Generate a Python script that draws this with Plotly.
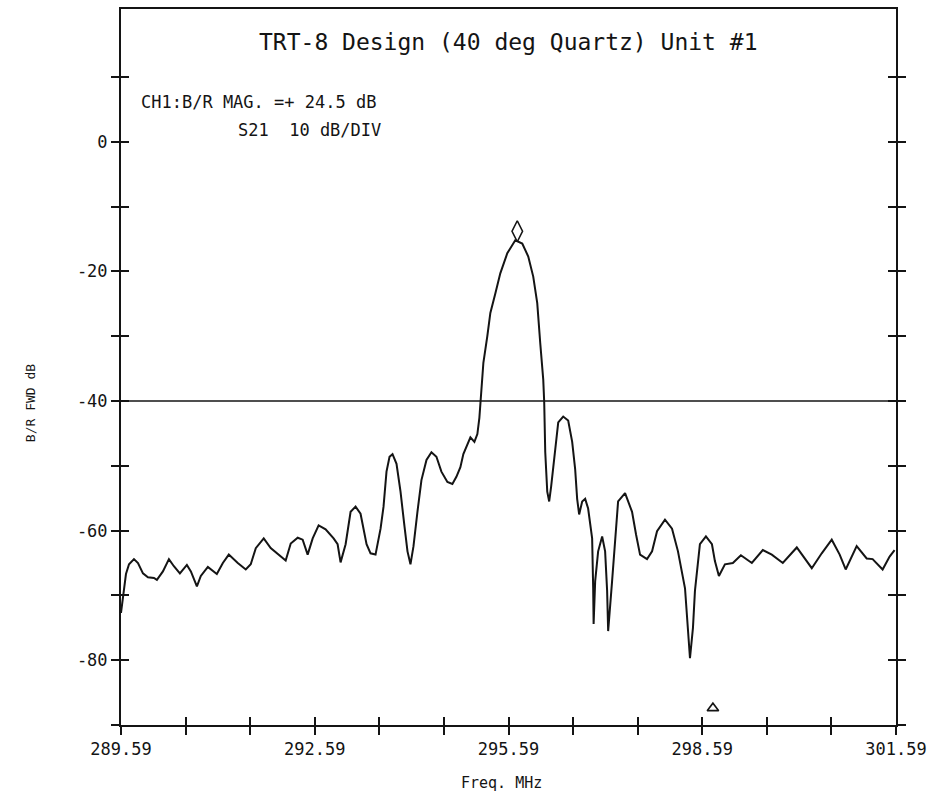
import plotly.graph_objects as go

# ---- data ----
freq_mhz = [
    289.590, 289.621, 289.667, 289.714, 289.791, 289.853, 289.930, 290.007, 290.100, 290.146,
    290.239, 290.332, 290.409, 290.502, 290.610, 290.672, 290.765, 290.826, 290.935, 291.074,
    291.167, 291.259, 291.398, 291.522, 291.599, 291.677, 291.800, 291.908, 292.032, 292.140,
    292.218, 292.326, 292.403, 292.480, 292.558, 292.650, 292.758, 292.882, 292.944, 292.990,
    293.068, 293.145, 293.222, 293.299, 293.392, 293.454, 293.531, 293.609, 293.655, 293.701,
    293.748, 293.794, 293.856, 293.918, 293.980, 294.026, 294.072, 294.119, 294.180, 294.242,
    294.320, 294.397, 294.474, 294.551, 294.644, 294.721, 294.783, 294.845, 294.891, 294.922,
    295.000, 295.062, 295.108, 295.139, 295.154, 295.201, 295.262, 295.309, 295.386, 295.463,
    295.571, 295.695, 295.803, 295.896, 295.973, 296.035, 296.081, 296.128, 296.143, 296.159,
    296.190, 296.220, 296.250, 296.313, 296.360, 296.437, 296.514, 296.576, 296.622, 296.653,
    296.684, 296.731, 296.777, 296.823, 296.854, 296.885, 296.901, 296.908, 296.932, 296.978,
    297.040, 297.086, 297.117, 297.133, 297.194, 297.256, 297.287, 297.395, 297.503, 297.565,
    297.627, 297.735, 297.813, 297.890, 298.013, 298.122, 298.214, 298.323, 298.369, 298.400,
    298.446, 298.477, 298.554, 298.647, 298.740, 298.786, 298.848, 298.941, 299.064, 299.188,
    299.358, 299.528, 299.667, 299.837, 300.054, 300.286, 300.440, 300.595, 300.718, 300.811,
    300.981, 301.136, 301.228, 301.383, 301.491, 301.568,
]
s21_db = [
    -72.7, -70.4, -66.7, -65.2, -64.4, -65.0, -66.6, -67.2, -67.3, -67.6,
    -66.3, -64.4, -65.5, -66.6, -65.3, -66.3, -68.6, -67.0, -65.6, -66.7,
    -65.0, -63.7, -65.0, -66.0, -65.2, -62.7, -61.2, -62.7, -63.7, -64.6,
    -62.0, -61.1, -61.4, -63.7, -61.2, -59.2, -59.8, -61.2, -62.1, -64.9,
    -62.1, -57.1, -56.3, -57.4, -62.1, -63.5, -63.7, -59.7, -56.3, -50.9,
    -48.6, -48.2, -49.7, -54.0, -59.4, -63.2, -65.2, -62.4, -57.1, -52.2,
    -49.1, -47.9, -48.6, -50.9, -52.5, -52.8, -51.7, -50.2, -48.2, -47.4,
    -45.6, -46.3, -45.1, -42.6, -40.2, -34.1, -30.0, -26.4, -23.4, -20.3,
    -17.2, -15.2, -15.7, -17.7, -20.8, -24.9, -31.0, -36.7, -40.2, -47.9,
    -54.0, -55.5, -53.2, -47.9, -43.3, -42.4, -43.0, -46.3, -50.5, -55.1,
    -57.5, -55.5, -55.1, -56.6, -58.6, -61.2, -68.9, -74.4, -67.8, -63.2,
    -60.9, -63.2, -69.3, -75.5, -67.8, -59.7, -55.5, -54.2, -57.1, -60.6,
    -63.7, -64.4, -63.2, -60.1, -58.3, -59.7, -63.2, -68.9, -75.0, -79.7,
    -75.0, -69.3, -62.1, -60.9, -62.1, -64.7, -67.0, -65.2, -65.0, -63.8,
    -65.0, -63.0, -63.7, -65.0, -62.6, -65.8, -63.5, -61.4, -63.7, -66.0,
    -62.4, -64.3, -64.4, -66.0, -64.0, -63.0,
]

marker_freq = [295.726]      # main marker (diamond) above the peak
marker_db = [-13.8]
delta_freq = [298.755]       # delta-marker symbol
delta_db = [-87.4]
ref_level_db = -40

x_range = [289.59, 301.59]
y_range = [-90, 20.5]
x_tick_vals = [289.59 + i for i in range(13)]
x_tick_text = ["289.59", "", "", "292.59", "", "", "295.59", "", "", "298.59", "", "", "301.59"]
y_tick_vals = [-90, -80, -70, -60, -50, -40, -30, -20, -10, 0, 10]
y_tick_text = ["", "-80", "", "-60", "", "-40", "", "-20", "", "0", ""]

title_text = "TRT-8 Design (40 deg Quartz) Unit #1"
info_line1 = "CH1:B/R MAG. =+ 24.5 dB"
info_line2 = "S21  10 dB/DIV"
x_title = "Freq. MHz"
y_title = "B/R FWD dB"

FONT = "DejaVu Sans Mono"
INK = "#141414"

fig = go.Figure()
fig.add_trace(go.Scatter(x=freq_mhz, y=s21_db, mode="lines",
                         line=dict(color=INK, width=2), showlegend=False, hoverinfo="skip"))
fig.add_trace(go.Scatter(x=marker_freq, y=marker_db, mode="markers",
                         marker=dict(symbol="diamond-tall-open", size=15, color=INK,
                                     line=dict(width=1.6, color=INK)),
                         showlegend=False, hoverinfo="skip"))
fig.add_trace(go.Scatter(x=delta_freq, y=delta_db, mode="markers",
                         marker=dict(symbol="triangle-up-open", size=10, color=INK,
                                     line=dict(width=1.6, color=INK)),
                         showlegend=False, hoverinfo="skip"))
# dummy trace for the inner-tick overlay axes
fig.add_trace(go.Scatter(x=[None], y=[None], xaxis="x2", yaxis="y2",
                         showlegend=False, hoverinfo="skip"))

fig.add_hline(y=ref_level_db, line=dict(color=INK, width=1.6))

common_axis = dict(showgrid=False, zeroline=False)
fig.update_layout(
    width=934, height=797,
    margin=dict(l=121, r=35, t=7, b=72),
    paper_bgcolor="white", plot_bgcolor="white",
    font=dict(family=FONT, color=INK),
    xaxis=dict(range=x_range, tickvals=x_tick_vals, ticktext=x_tick_text,
               ticks="outside", ticklen=8, tickwidth=1.5, tickcolor=INK,
               showline=True, linewidth=2, linecolor=INK, mirror=True,
               tickfont=dict(family=FONT, size=17, color=INK), **common_axis),
    xaxis2=dict(range=x_range, tickvals=x_tick_vals, overlaying="x", anchor="y",
                side="bottom", ticks="inside", ticklen=8, tickwidth=1.5, tickcolor=INK,
                showticklabels=False, showline=False, **common_axis),
    yaxis=dict(range=y_range, tickvals=y_tick_vals, ticktext=y_tick_text,
               ticks="outside", ticklen=8, tickwidth=1.5, tickcolor=INK,
               showline=True, linewidth=2, linecolor=INK, mirror="ticks",
               tickfont=dict(family=FONT, size=17, color=INK), **common_axis),
    yaxis2=dict(range=y_range, tickvals=y_tick_vals, overlaying="y", anchor="x",
                side="left", ticks="inside", ticklen=8, tickwidth=1.5, tickcolor=INK,
                showticklabels=False, showline=False, mirror="ticks", **common_axis),
)

fig.add_annotation(text=title_text, xref="paper", yref="paper", x=0.5, y=0.954,
                   xanchor="center", yanchor="middle", showarrow=False,
                   font=dict(family=FONT, size=23, color=INK))
fig.add_annotation(text=info_line1, xref="paper", yref="paper", x=0.023, y=0.870,
                   xanchor="left", yanchor="middle", showarrow=False,
                   font=dict(family=FONT, size=17, color=INK))
fig.add_annotation(text=info_line2, xref="paper", yref="paper", x=0.149, y=0.831,
                   xanchor="left", yanchor="middle", showarrow=False,
                   font=dict(family=FONT, size=17, color=INK))
fig.add_annotation(text=x_title, xref="paper", yref="paper", x=0.491, y=-0.081,
                   xanchor="center", yanchor="middle", showarrow=False,
                   font=dict(family=FONT, size=15, color=INK))
fig.add_annotation(text=y_title, xref="paper", yref="paper", x=-0.117, y=0.45,
                   xanchor="center", yanchor="middle", showarrow=False, textangle=-90,
                   font=dict(family=FONT, size=13, color=INK))

fig.write_html("out.html")
